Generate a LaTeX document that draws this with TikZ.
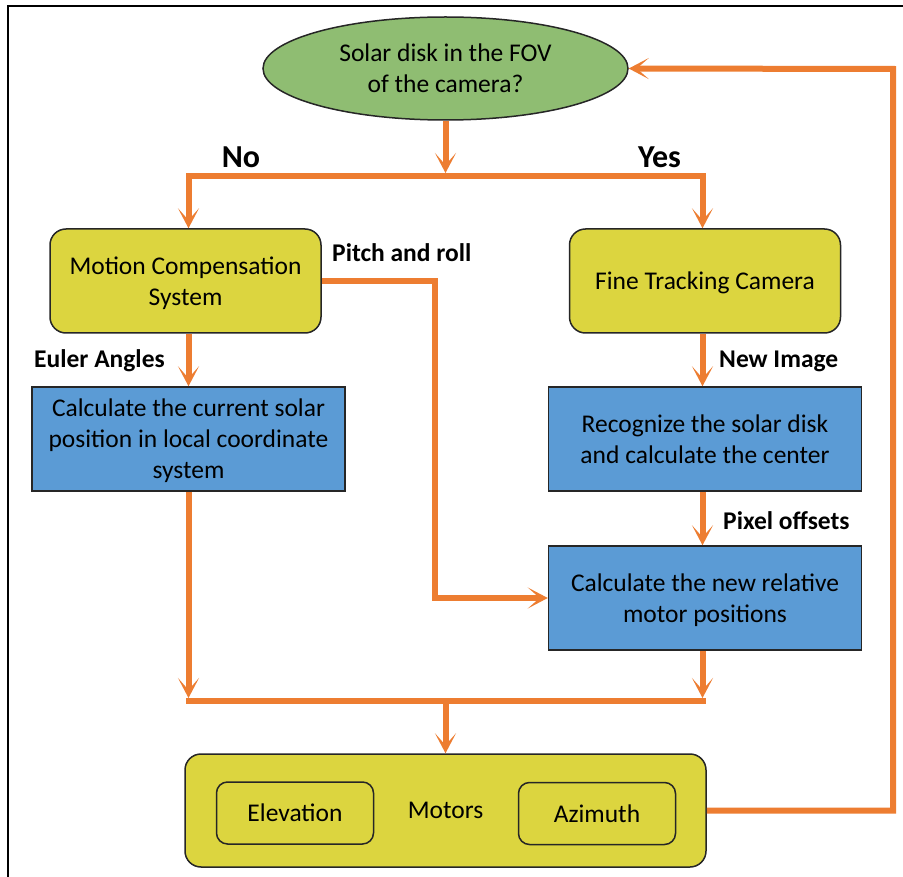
\documentclass[tikz,border=0pt]{standalone}
\usepackage{fontspec}
\setmainfont{Carlito}
\usetikzlibrary{arrows.meta,shapes.geometric,calc}
\definecolor{org}{HTML}{ED7D31}
\definecolor{grn}{HTML}{8FBD72}
\definecolor{ylw}{HTML}{DCD53F}
\definecolor{blu}{HTML}{5B9BD5}
\definecolor{edgec}{HTML}{262626}
\newcommand{\mainfs}{\fontsize{25.5}{31}\selectfont}
\newcommand{\bigfs}{\fontsize{32}{38}\selectfont}
\newcommand{\nodep}[1]{\raisebox{0pt}[\height][0pt]{#1}}
\begin{document}
\begin{tikzpicture}[x=1pt,y=-1pt,
  box/.style={draw=edgec, line width=1.5pt, align=center, font=\mainfs, inner sep=0pt},
  ybox/.style={box, fill=ylw, rounded corners=16pt, minimum width=271pt, minimum height=104pt},
  bbox/.style={box, fill=blu, minimum width=313pt, minimum height=104pt},
  sbox/.style={box, fill=ylw, rounded corners=11pt, minimum width=157pt, minimum height=62pt},
  qell/.style={box, fill=grn, ellipse, minimum width=365pt, minimum height=103pt},
  flow/.style={draw=org, line width=6pt},
  arr/.style={flow, -{Stealth[length=20pt,width=21pt,inset=12pt]}},
  lbl/.style={font=\bfseries\mainfs, inner sep=0pt, anchor=base west},
  yn/.style={font=\bfseries\bigfs, inner sep=0pt, anchor=base}
]
\useasboundingbox (0,0) rectangle (903,877);
\fill[white] (0,0) rectangle (903,877);
\draw[black, line width=1.5pt] (8,877) -- (8,6) -- (903,6);

% nodes
\node[qell] (q) at (445.5,68.5) {Solar disk in the FOV\\of the camera?};
\node[ybox] (mcs) at (185.5,281) {Motion Compensation\\\nodep{System}};
\node[ybox] (ftc) at (705,281) {\nodep{Fine Tracking Camera}};
\node[bbox] (cur) at (188.5,439) {Calculate the current solar\\position in local coordinate\\\nodep{system}};
\node[bbox] (rec) at (705,439) {Recognize the solar disk\\and calculate the center};
\node[bbox] (rel) at (705,598) {Calculate the new relative\\\nodep{motor positions}};
\node[box, fill=ylw, rounded corners=16pt, minimum width=521pt, minimum height=113pt] (mot) at (445.5,810.5) {Motors};
\node[sbox] (ele) at (295,813) {Elevation};
\node[sbox] (azi) at (597,813.5) {Azimuth};

% labels
\node[yn] (lno) at (241,168) {No};
\node[yn] (lyes) at (659.5,168) {Yes};
\node[lbl] (lpr) at (332,262) {Pitch and roll};
\node[lbl] (leu) at (34,368) {Euler Angles};
\node[lbl] (lni) at (719,368) {New Image};
\node[lbl] (lpo) at (723,529) {Pixel offsets};

% junction coordinates
\coordinate (split) at (445.5,175.7);
\coordinate (splitt) at (445.5,173);
\coordinate (nL) at (188.5,175.7);
\coordinate (nR) at (702.5,175.7);
\coordinate (pc) at (434.5,598);
\coordinate (bL) at (188.5,701);
\coordinate (bR) at (702.5,701);
\coordinate (bM) at (445.5,701);
\coordinate (bLt) at (188.5,698);
\coordinate (bRt) at (702.5,698);
\coordinate (fb) at (893,69);

% connectors
\draw[arr] (q.south) -- (splitt);
\draw[arr] (split) -- (nL) -- (nL |- mcs.north);
\draw[arr] (split) -- (nR) -- (nR |- ftc.north);
\draw[arr] (mcs.east) -| (pc) -- (rel.west);
\draw[arr] (nL |- mcs.south) -- (nL |- cur.north);
\draw[arr] (nR |- ftc.south) -- (nR |- rec.north);
\draw[arr] (nR |- rec.south) -- (nR |- rel.north);
\draw[arr] (nL |- cur.south) -- (bLt);
\draw[arr] (nR |- rel.south) -- (bRt);
\draw[flow, line cap=rect] (bL) -- (bR);
\draw[arr] (bM) -- (mot.north);
\draw[arr] (mot.east) -| (fb) -- (q.east);
\end{tikzpicture}
\end{document}
